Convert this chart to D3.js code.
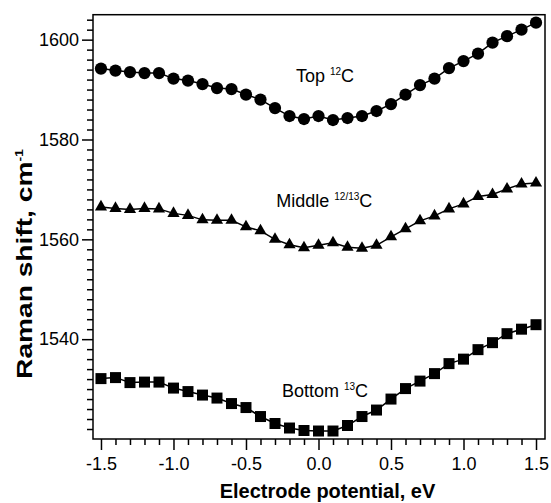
<!DOCTYPE html>
<html>
<head>
<meta charset="utf-8">
<script src="https://cdn.jsdelivr.net/npm/d3@7"></script>
<style>
  html, body { margin: 0; padding: 0; background: #fff; }
  svg { display: block; font-family: Arial, "Liberation Sans", sans-serif; }
</style>
</head>
<body>
<svg id="chart" width="551" height="503"></svg>
<script>
const potentials = [-1.5,-1.4,-1.3,-1.2,-1.1,-1.0,-0.9,-0.8,-0.7,-0.6,-0.5,-0.4,-0.3,-0.2,-0.1,0.0,0.1,0.2,0.3,0.4,0.5,0.6,0.7,0.8,0.9,1.0,1.1,1.2,1.3,1.4,1.5];
const topValues = [1594.2,1593.8,1593.5,1593.3,1593.3,1592.2,1591.8,1591.1,1590.3,1590.1,1589.0,1588.0,1586.3,1584.7,1584.1,1584.7,1583.9,1584.3,1584.7,1585.7,1587.1,1589.0,1590.9,1592.2,1594.3,1595.7,1597.2,1599.4,1600.7,1602.0,1603.4];
const middleValues = [1566.5,1566.2,1566.0,1566.2,1566.1,1565.2,1564.8,1563.9,1563.8,1563.8,1562.5,1561.7,1560.0,1558.9,1558.3,1558.8,1559.3,1558.4,1558.2,1558.8,1560.5,1562.1,1563.7,1564.7,1566.1,1567.1,1568.6,1569.0,1570.1,1571.1,1571.3];
const bottomValues = [1532.1,1532.3,1531.3,1531.4,1531.4,1530.2,1529.5,1528.8,1528.2,1527.1,1526.3,1524.5,1523.1,1522.2,1521.7,1521.6,1521.6,1522.7,1524.5,1525.8,1528.0,1530.1,1531.6,1533.1,1535.1,1536.0,1537.9,1539.3,1541.1,1542.0,1542.9];
const seriesNames = ["Top", "Middle", "Bottom"];
const seriesSup = ["12", "12/13", "13"];
const labelPotential = [0.045, 0.04, 0.045];
const labelShift = [1591.5, 1566.5, 1528.4];
const xTickValues = [-1.5,-1.0,-0.5,0.0,0.5,1.0,1.5];
const xTickLabels = ["-1.5","-1.0","-0.5","0.0","0.5","1.0","1.5"];
const yTickValues = [1540,1560,1580,1600];
const yTickLabels = ["1540","1560","1580","1600"];

const svg = d3.select("#chart");
const mLeft = 93, mRight = 545, mTop = 14.7, mBottom = 439;
const x = d3.scaleLinear().domain([-1.555, 1.562]).range([mLeft, mRight]);
const y = d3.scaleLinear().domain([1520, 1605]).range([mBottom, mTop]);

// minor ticks
const xMinor = d3.range(-15, 16).map(d => d / 10).filter(d => !xTickValues.some(t => Math.abs(t - d) < 1e-9));
const yMinor = d3.range(1522, 1605, 2).filter(d => d % 20 !== 0);

const gx = svg.append("g").attr("transform", `translate(0,${mBottom})`);
gx.call(d3.axisBottom(x).tickValues(xMinor).tickSize(6).tickFormat(""));
gx.select(".domain").remove();
const gx2 = svg.append("g").attr("transform", `translate(0,${mBottom})`);
gx2.call(d3.axisBottom(x).tickValues(xTickValues).tickSize(11).tickPadding(5)
  .tickFormat((d, i) => xTickLabels[i]));
gx2.select(".domain").remove();

const gy = svg.append("g").attr("transform", `translate(${mLeft},0)`);
gy.call(d3.axisLeft(y).tickValues(yMinor).tickSize(6).tickFormat(""));
gy.select(".domain").remove();
const gy2 = svg.append("g").attr("transform", `translate(${mLeft},0)`);
gy2.call(d3.axisLeft(y).tickValues(yTickValues).tickSize(11).tickPadding(3)
  .tickFormat((d, i) => yTickLabels[i]));
gy2.select(".domain").remove();

svg.selectAll(".tick line").attr("stroke", "#000").attr("stroke-width", 1.5);
svg.selectAll(".tick text").attr("font-size", 18).attr("fill", "#000")
  .attr("font-family", "Arial, 'Liberation Sans', sans-serif");
gx2.selectAll(".tick text").attr("dy", "0.85em");

// frame
svg.append("rect").attr("x", mLeft).attr("y", mTop).attr("width", mRight - mLeft).attr("height", mBottom - mTop)
  .attr("fill", "none").attr("stroke", "#000").attr("stroke-width", 1.5);

const allSeries = [topValues, middleValues, bottomValues];
const line = d3.line().x((d, i) => x(potentials[i])).y(d => y(d));
const symbols = [d3.symbolCircle, d3.symbolTriangle, d3.symbolSquare];
const sizes = [118, 64, 121];

allSeries.forEach((vals, s) => {
  svg.append("path").datum(vals).attr("d", line).attr("fill", "none").attr("stroke", "#000").attr("stroke-width", 1.5);
  svg.append("g").selectAll("path").data(vals).join("path")
    .attr("transform", (d, i) => `translate(${x(potentials[i])},${y(d)})`)
    .attr("d", d3.symbol().type(symbols[s]).size(sizes[s]))
    .attr("fill", "#000");
  const t = svg.append("text")
    .attr("x", x(labelPotential[s])).attr("y", y(labelShift[s]))
    .attr("text-anchor", "middle").attr("font-size", 18).attr("fill", "#000");
  t.append("tspan").text(seriesNames[s] + " ");
  t.append("tspan").text(seriesSup[s]).attr("font-size", 10).attr("dy", -7);
  t.append("tspan").text("C").attr("dy", 7);
});

// axis titles
svg.append("text").attr("x", 327.5).attr("y", 498)
  .attr("text-anchor", "middle").attr("font-weight", "bold").attr("font-size", 20)
  .text("Electrode potential, eV");

const yt = svg.append("text").attr("transform", `translate(31.5,264) rotate(-90) scale(1.28,1)`)
  .attr("text-anchor", "middle").attr("font-weight", "bold").attr("font-size", 22);
yt.append("tspan").text("Raman shift, cm");
yt.append("tspan").text("-1").attr("font-size", 11).attr("dy", -9);
</script>
</body>
</html>
